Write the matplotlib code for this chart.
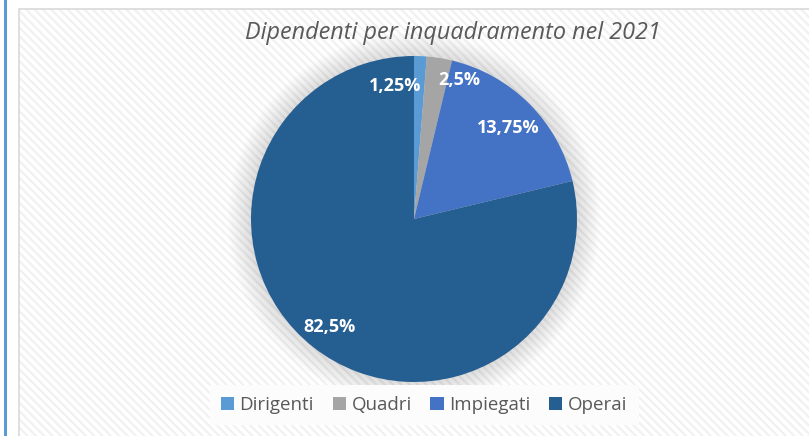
import numpy as np
import matplotlib.pyplot as plt
from matplotlib.patches import Rectangle, Circle

# data (wedge sizes as drawn; text labels as printed on the chart)
categories = ["Dirigenti", "Quadri", "Impiegati", "Operai"]
values = [1.25, 2.5, 17.5, 78.75]
labels = ["1,25%", "2,5%", "13,75%", "82,5%"]
colors = ["#5B9BD5", "#A5A5A5", "#4472C4", "#255E91"]
title = "Dipendenti per inquadramento nel 2021"

# label placement in pie units (radius = 1), like excel puts them
label_pos = [(-0.117, 0.816), (0.276, 0.853), (0.58, 0.56), (-0.52, -0.66)]

W, H = 809, 436
fig = plt.figure(figsize=(W / 100, H / 100), dpi=100)
fig.patch.set_facecolor("white")

# blue bar on the left
fig.add_artist(Rectangle((4 / W, 0), 3 / W, 1, transform=fig.transFigure,
                         facecolor="#5B9BD5", edgecolor="none", zorder=-2))
# chart area with light diagonal stripes
plt.rcParams["hatch.linewidth"] = 1.6
fig.add_artist(Rectangle((19 / W, -0.05), 1, 1 - 9 / H + 0.05, transform=fig.transFigure,
                         facecolor="white", edgecolor="#F1F1F1", hatch="\\\\\\\\", linewidth=0,
                         zorder=-2))
fig.add_artist(Rectangle((19 / W, -0.05), 1, 1 - 9 / H + 0.05, transform=fig.transFigure,
                         facecolor="none", edgecolor="#D9D9D9", linewidth=1.2, zorder=-1))

cx, cy, r = 414, 436 - 219, 163
ax = fig.add_axes([(cx - r) / W, (cy - r) / H, 2 * r / W, 2 * r / H])

# soft shadow round the pie
for k in range(16):
    ax.add_patch(Circle((0, 0), 1 + 0.009 * (k + 1), facecolor="#000000",
                        alpha=0.008, edgecolor="none", zorder=0, clip_on=False))

wedges, _ = ax.pie(values, colors=colors, startangle=90, counterclock=False,
                   radius=1, wedgeprops=dict(linewidth=0))
for w in wedges:
    w.set_zorder(2)
for lab, (x, y) in zip(labels, label_pos):
    ax.text(x, y, lab, ha="center", va="center", color="white",
            fontsize=13, fontweight="bold", family="Open Sans", zorder=3)
ax.set_xlim(-1, 1)
ax.set_ylim(-1, 1)
ax.set_aspect("equal")
ax.axis("off")

fig.text(453 / W, 1 - 33 / H, title, ha="center", va="center", color="#595959",
         fontsize=16.8, style="italic", family="Open Sans")

handles = [Rectangle((0, 0), 1, 1, facecolor=c, edgecolor="none") for c in colors]
leg = fig.legend(handles, categories, loc="center", bbox_to_anchor=(424 / W, 1 - 405 / H),
                 ncol=4, frameon=True, handlelength=0.7, handleheight=0.7,
                 handletextpad=0.3, columnspacing=1.0, borderpad=0.6,
                 prop=dict(family="Open Sans", size=13.5))
leg.get_frame().set_facecolor("#FCFCFC")
leg.get_frame().set_edgecolor("none")
leg.get_frame().set_alpha(1)
leg.get_frame().set_boxstyle("square", pad=0)
leg.set_zorder(5)
for t in leg.get_texts():
    t.set_color("#595959")

fig.savefig("out.png", dpi=100)
